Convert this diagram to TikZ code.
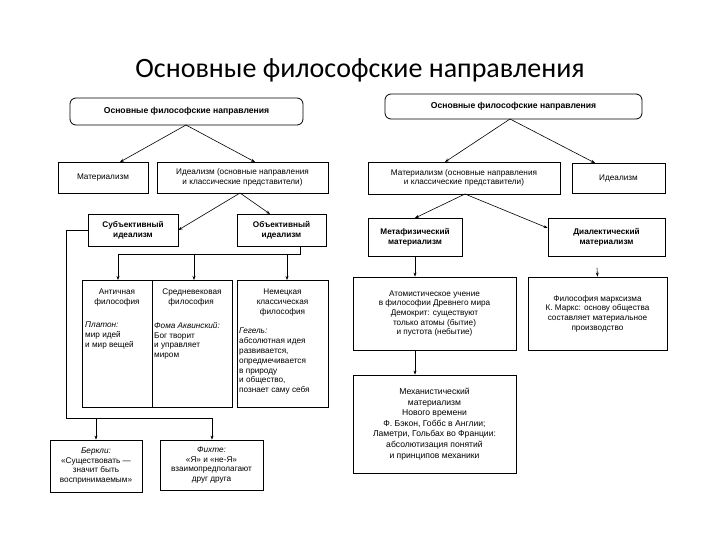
\documentclass[tikz,border=0pt]{standalone}
\usepackage{fontspec}
\setmainfont{Liberation Sans}
\newfontfamily\titlefont{Carlito}
\usetikzlibrary{arrows.meta}
\begin{document}
\begin{tikzpicture}[x=1pt,y=-1pt,
  bx/.style={draw,line width=0.8pt,inner sep=0pt,align=center,font=\fontsize{8.2}{9.6}\selectfont},
  bb/.style={bx,font=\fontsize{8.2}{9.6}\selectfont\bfseries},
  ttl/.style={bx,rounded corners=6pt,font=\fontsize{8.6}{10}\selectfont\bfseries},
  tx/.style={inner sep=0pt,anchor=north,font=\fontsize{8.2}{9.8}\selectfont},
  ar/.style={-{Stealth[length=4pt,width=3pt]},line width=0.6pt},
  ln/.style={line width=0.8pt}]
\useasboundingbox (0,0) rectangle (720,540);
\node[font=\titlefont\fontsize{28}{30}\selectfont] (T) at (360,70) {Основные философские направления};
% left panel
\node[ttl,minimum width=233pt,minimum height=27pt] (LT) at (186.5,111.5) {Основные философские направления};
\node[bx,minimum width=90pt,minimum height=31pt] (LM) at (103,177.5) {Материализм};
\node[bx,minimum width=171pt,minimum height=31pt] (LI) at (242.5,177.5) {Идеализм (основные направления\\и классические представители)};
\node[bb,minimum width=90pt,minimum height=32pt] (LS) at (133,230) {Субъективный\\идеализм};
\node[bb,minimum width=89pt,minimum height=32pt] (LO) at (281.5,230) {Объективный\\идеализм};
\node[bx,minimum width=70pt,minimum height=127pt,anchor=north west] (A1) at (82,280) {};
\node[bx,minimum width=80pt,minimum height=127pt,anchor=north west] (A2) at (152,280) {};
\node[bx,minimum width=91pt,minimum height=127pt,anchor=north west] (A3) at (237,280) {};
\node[tx,align=center] (a1h) at (117,289) {Античная\\философия};
\node[tx,align=left,anchor=north west] (a1t) at (85,322) {\textit{Платон:}\\мир идей\\и мир вещей};
\node[tx,align=left] (a2h) at (192,289) {Средневековая\\\hspace*{6pt}философия};
\node[tx,align=left,anchor=north west] (a2t) at (154,322) {\textit{Фома Аквинский:}\\Бог творит\\и управляет\\миром};
\node[tx,align=center] (a3h) at (282.5,289) {Немецкая\\классическая\\философия};
\node[tx,align=left,anchor=north west] (a3t) at (239,328) {\textit{Гегель:}\\абсолютная идея\\развивается,\\опредмечивается\\в природу\\и общество,\\познает саму себя};
\node[bx,minimum width=92pt,minimum height=52pt] (B1) at (96,466) {\textit{Беркли:}\\«Существовать —\\значит быть\\воспринимаемым»};
\node[bx,minimum width=103pt,minimum height=50pt] (B2) at (211.5,465) {\textit{Фихте:}\\«Я» и «не-Я»\\взаимопредполагают\\друг друга};
\draw[ar] (186,125) -- (120,162);
\draw[ar] (186,125) -- (255,162);
\draw[ar] (240,193) -- (LS.east);
\draw[ar] (240,193) -- (270,214);
\coordinate (o1) at (300,254);
\draw[ln] (LO.south -| o1) -- (o1) -- (118,254);
\draw[ar] (118,254) -- (A1.north -| 118,0);
\draw[ar] (194,254) -- (A2.north -| 194,0);
\draw[ar] (287,254) -- (A3.north -| 287,0);
\coordinate (s1) at (66,230);
\draw[ln] (LS.west) -- (s1) -- (66,418) -- (212,418);
\draw[ar] (96,418) -- (B1.north);
\draw[ar] (212,418) -- (B2.north -| 212,0);
% right panel
\node[ttl,minimum width=257pt,minimum height=25pt] (RT) at (513.5,106.5) {Основные философские направления};
\node[bx,minimum width=192pt,minimum height=32pt] (RM) at (464,178) {Материализм (основные направления\\и классические представители)};
\node[bx,minimum width=93pt,minimum height=30pt] (RI) at (618.5,178) {Идеализм};
\node[bb,minimum width=94pt,minimum height=38pt] (MF) at (415,237) {Метафизический\\материализм};
\node[bb,minimum width=117pt,minimum height=38pt] (DM) at (606.5,237) {Диалектический\\материализм};
\node[bx,minimum width=163pt,minimum height=73pt] (AT) at (434.5,313.5) {Атомистическое учение\\в философии Древнего мира\\Демокрит: существуют\\только атомы (бытие)\\и пустота (небытие)};
\node[bx,minimum width=139pt,minimum height=73pt] (MX) at (597.5,313.5) {Философия марксизма\\К. Маркс: основу общества\\составляет материальное\\производство};
\node[bx,minimum width=163pt,minimum height=98pt,font=\fontsize{8.6}{10.6}\selectfont] (MC) at (434.5,424) {Механистический\\материализм\\Нового времени\\Ф. Бэкон, Гоббс в Англии;\\Ламетри, Гольбах во Франции:\\абсолютизация понятий\\и принципов механики};
\draw[ar] (510,119) -- (445,162);
\draw[ar] (510,119) -- (595,163);
\draw[ar] (465,194) -- (415,218);
\draw[ar] (465,194) -- (DM.west |- 0,228);
\draw[ar] (415,256) -- (AT.north -| 415,0);
\draw[ar] (AT.south -| 415,0) -- (MC.north -| 415,0);
\coordinate (m1) at (597,268);
\draw[ar] (m1) -- (MX.north);
\end{tikzpicture}
\end{document}
